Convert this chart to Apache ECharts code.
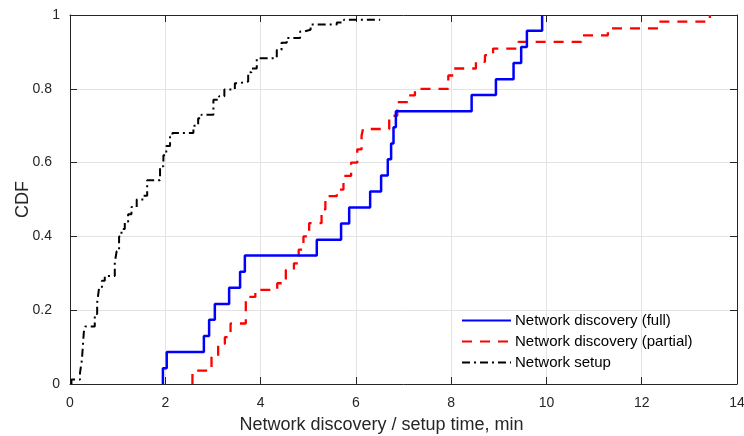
<!DOCTYPE html>
<html><head><meta charset="utf-8">
<script src="https://cdn.jsdelivr.net/npm/echarts@6/dist/echarts.min.js"></script>
<style>html,body{margin:0;padding:0;background:#fff}#c{width:744px;height:436px}</style>
</head><body><div id="c"></div>
<script>
const seriesNames = ['Network discovery (full)', 'Network discovery (partial)', 'Network setup'];
const fullX = [1.95,1.95,2.03,2.81,2.92,3.04,3.34,3.57,3.67,5.18,5.69,5.86,6.30,6.53,6.67,6.74,6.79,6.84,8.43,8.94,9.31,9.47,9.59,9.91];
const fullY = [0,0.043,0.087,0.130,0.174,0.217,0.261,0.304,0.348,0.391,0.435,0.478,0.522,0.565,0.609,0.652,0.696,0.739,0.783,0.826,0.870,0.913,0.957,1.0];
const partialX = [2.57,2.57,2.97,3.11,3.25,3.37,3.69,3.89,4.35,4.53,4.70,4.80,4.90,5.02,5.28,5.36,5.60,5.74,5.90,6.03,6.12,6.15,6.70,6.87,7.10,7.24,7.94,8.05,8.52,8.71,8.88,9.41,10.73,11.29,12.36,13.43];
const partialY = [0,0.036,0.073,0.109,0.127,0.164,0.236,0.255,0.273,0.309,0.327,0.364,0.400,0.436,0.473,0.509,0.527,0.564,0.600,0.636,0.673,0.691,0.727,0.764,0.782,0.800,0.836,0.855,0.873,0.891,0.909,0.927,0.945,0.964,0.982,1.0];
const setupX = [0.03,0.03,0.21,0.25,0.29,0.32,0.52,0.57,0.61,0.67,0.73,0.94,0.98,1.03,1.08,1.15,1.22,1.29,1.40,1.54,1.62,1.89,1.96,2.02,2.10,2.15,2.59,2.69,2.76,3.01,3.13,3.24,3.46,3.55,3.74,3.81,3.92,4.34,4.44,4.55,4.83,4.90,5.05,5.60,5.75,6.51];
const setupY = [0,0.012,0.030,0.065,0.140,0.156,0.190,0.220,0.260,0.280,0.293,0.330,0.360,0.400,0.420,0.440,0.460,0.480,0.500,0.510,0.552,0.590,0.620,0.645,0.670,0.680,0.700,0.720,0.730,0.770,0.780,0.798,0.815,0.820,0.845,0.855,0.883,0.905,0.925,0.938,0.955,0.960,0.974,0.980,0.987,0.987];
const xTickLabels = ['0','2','4','6','8','10','12','14'];
const yTickLabels = ['0','0.2','0.4','0.6','0.8','1'];
const xTitle = 'Network discovery / setup time, min';
const yTitle = 'CDF';

const pairs = (xs, ys) => xs.map((x, i) => [x, ys[i]]);
const FONT = 'Liberation Sans, Arial, Helvetica, sans-serif';
const AX = '#262626';
const chart = echarts.init(document.getElementById('c'), null, {renderer: 'canvas'});

const baseX = {
  type: 'value', min: 0, max: 14, interval: 2,
  axisLine: {show: true, onZero: false, lineStyle: {color: AX, width: 1}},
  axisTick: {show: true, inside: true, length: 7, lineStyle: {color: AX}},
};
const baseY = {
  type: 'value', min: 0, max: 1, interval: 0.2,
  axisLine: {show: true, onZero: false, lineStyle: {color: AX, width: 1}},
  axisTick: {show: true, inside: true, length: 7, lineStyle: {color: AX}},
};

chart.setOption({
  animation: false,
  backgroundColor: '#fff',
  grid: {left: 70, right: 7, top: 15, bottom: 52, containLabel: false, outerBoundsMode: 'none'},
  legend: {
    orient: 'vertical', left: 461, top: 313, padding: 0,
    itemWidth: 49, itemHeight: 14, itemGap: 6,
    data: seriesNames,
    itemStyle: {opacity: 0},
    textStyle: {fontFamily: FONT, fontSize: 15, color: '#000', padding: [0,0,0,-1]},
  },
  xAxis: [
    Object.assign({}, baseX, {
      position: 'bottom',
      axisLabel: {color: AX, fontSize: 14, fontFamily: FONT, margin: 12,
        formatter: v => xTickLabels[Math.round(v / 2)]},
      splitLine: {show: true, lineStyle: {color: '#e3e3e3', width: 1}},
      name: xTitle, nameLocation: 'middle', nameGap: 32, nameMoveOverlap: false,
      nameTextStyle: {color: AX, fontSize: 18, fontFamily: FONT, padding: [0, 44, 0, 0]},
    }),
    Object.assign({}, baseX, {
      position: 'top', axisLabel: {show: false}, splitLine: {show: false},
    }),
  ],
  yAxis: [
    Object.assign({}, baseY, {
      position: 'left',
      axisLabel: {color: AX, fontSize: 14, fontFamily: FONT, margin: 10,
        formatter: v => {
          const s = yTickLabels[Math.round(v / 0.2)];
          return s.length > 1 ? '{d|' + s + '}' : s;
        },
        rich: {d: {color: AX, fontSize: 14, fontFamily: FONT, padding: [0, 8, 0, 0]}}},
      splitLine: {show: true, lineStyle: {color: '#e3e3e3', width: 1}},
      name: yTitle, nameLocation: 'middle', nameGap: 38, nameRotate: 90, nameMoveOverlap: false,
      nameTextStyle: {color: AX, fontSize: 18, fontFamily: FONT},
    }),
    Object.assign({}, baseY, {
      position: 'right', axisLabel: {show: false}, splitLine: {show: false},
    }),
  ],
  series: [
    {name: seriesNames[0], type: 'line', step: 'end', symbol: 'none', data: pairs(fullX, fullY),
     lineStyle: {color: '#0000ff', width: 2.5, type: 'solid'}, itemStyle: {color: '#0000ff'}, z: 3},
    {name: seriesNames[1], type: 'line', step: 'end', symbol: 'none', data: pairs(partialX, partialY),
     lineStyle: {color: '#ff0000', width: 2.3, type: [10, 8]}, itemStyle: {color: '#ff0000'}, z: 2},
    {name: seriesNames[2], type: 'line', step: 'end', symbol: 'none', data: pairs(setupX, setupY),
     lineStyle: {color: '#000000', width: 2, type: [8, 4, 2, 4]}, itemStyle: {color: '#000000'}, z: 4},
  ],
});
</script></body></html>
